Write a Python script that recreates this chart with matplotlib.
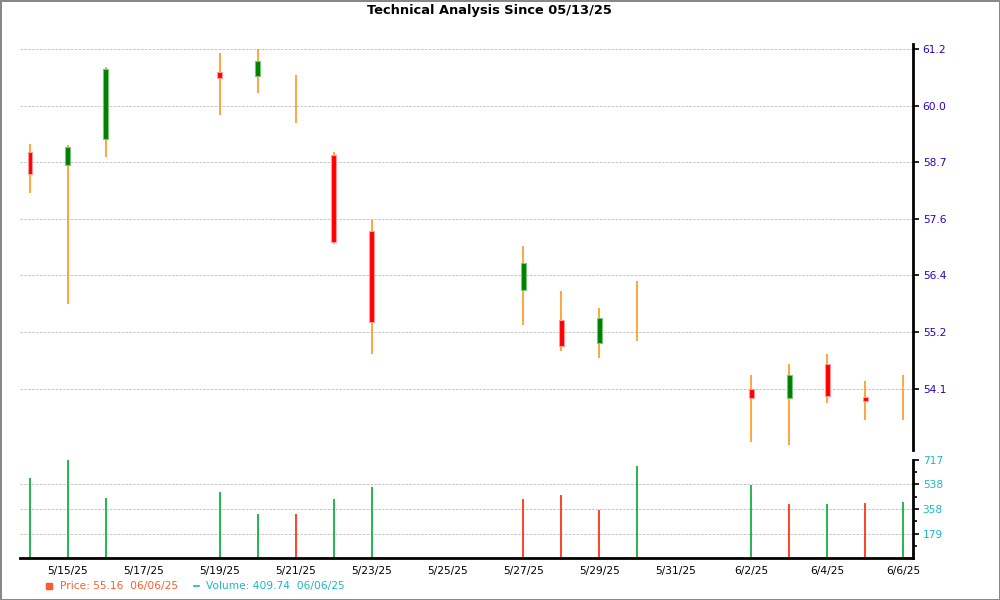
import matplotlib
matplotlib.use('Agg')
import matplotlib.pyplot as plt
import matplotlib.dates as mdates
from matplotlib.ticker import FuncFormatter
from matplotlib.lines import Line2D
import pandas as pd
import numpy as np

# daily OHLC
dates = ['2025-05-14', '2025-05-15', '2025-05-16', '2025-05-19', '2025-05-20',
         '2025-05-21', '2025-05-22', '2025-05-23', '2025-05-27', '2025-05-28',
         '2025-05-29', '2025-05-30', '2025-06-02', '2025-06-03', '2025-06-04',
         '2025-06-05', '2025-06-06']
opens = [59.04, 58.77, 59.33, 60.72, 60.64, 59.80, 58.99, 57.39, 56.16, 55.54,
         55.05, 55.49, 54.09, 53.90, 54.61, 53.92, 54.13]
highs = [59.22, 59.20, 60.82, 61.12, 61.21, 60.66, 59.06, 57.62, 57.08, 56.14,
         55.79, 56.35, 54.38, 54.61, 54.82, 54.26, 54.38]
lows = [58.20, 55.86, 58.95, 59.83, 60.29, 59.65, 57.12, 54.82, 55.42, 54.89,
        54.75, 55.10, 52.99, 52.91, 53.79, 53.45, 53.45]
closes = [58.59, 59.15, 60.79, 60.59, 60.96, 59.80, 57.17, 55.49, 56.73, 54.99,
          55.57, 55.49, 53.90, 54.38, 53.94, 53.83, 54.13]
volumes = [584, 717, 437, 481, 322, 322, 430, 518, 430, 462, 349, 675, 533, 395,
           395, 403, 410]
vol_up = [1, 1, 1, 1, 1, 0, 1, 1, 0, 0, 0, 1, 1, 0, 1, 0, 1]

price_ticks = ['54.1', '55.2', '56.4', '57.6', '58.7', '60.0', '61.2']
vol_ticks = [179, 358, 538, 717]

days = mdates.date2num(pd.to_datetime(dates))
o = np.array(opens); c = np.array(closes)

grid_kw = dict(linestyle=(0, (2.5, 1.5)), color='#c4c4c4', lw=0.7)

fig = plt.figure(figsize=(10, 6), dpi=100, facecolor='white',
                 edgecolor='#888888', linewidth=2)
ax = fig.add_axes([0.02, 0.25, 0.893, 0.6767])
axv = fig.add_axes([0.02, 0.07, 0.893, 0.1633], sharex=ax)

# candles
ax.vlines(days, lows, highs, color='#ff961a', lw=1.2, zorder=2)
up = c > o
dn = c < o
ax.bar(days[up], (c - o)[up], bottom=o[up], width=0.13, color='#008000',
       edgecolor='#78c478', lw=0.8, zorder=3)
ax.bar(days[dn], (o - c)[dn], bottom=c[dn], width=0.13, color='#ff0000',
       edgecolor='#ff9a9a', lw=0.8, zorder=3)
# flat days: faint break in the wick
flat = c == o
ax.hlines(c[flat], days[flat] - 0.02, days[flat] + 0.02, color='#ffd9a8',
          lw=1.0, zorder=3)

ax.set_ylim(52.815, 61.31)
pt = np.linspace(54.1, 61.2, len(price_ticks))
ax.set_yticks(pt)
ax.set_yticklabels(price_ticks)
ax.yaxis.tick_right()
ax.tick_params(axis='y', colors='black', labelcolor='#2a00c8', labelsize=7.7,
               length=4, width=1.2, pad=3)
ax.tick_params(axis='x', labelbottom=False, length=0)
ax.grid(axis='y', **grid_kw)
ax.set_axisbelow(True)
for s in ['left', 'top', 'bottom']:
    ax.spines[s].set_visible(False)
ax.spines['right'].set_linewidth(2)

# volume
vcol = ['#00aa33' if u else '#ff2200' for u in vol_up]
for v in vol_ticks[:-1]:
    axv.axhline(v, zorder=0, **grid_kw)
axv.vlines(days, 0, volumes, colors=vcol, lw=1.2)
axv.set_ylim(0, 717)
axv.set_yticks(vol_ticks)
axv.set_yticks([v - 89.6 for v in vol_ticks], minor=True)
axv.yaxis.tick_right()
axv.tick_params(axis='y', which='both', labelcolor='#1ab8c8', labelsize=7.7,
                length=4, width=1.2, pad=3)
axv.tick_params(axis='y', which='minor', length=3)
for s in ['left', 'top']:
    axv.spines[s].set_visible(False)
axv.spines['right'].set_linewidth(2)
axv.spines['bottom'].set_linewidth(2)

xt = mdates.date2num(pd.date_range('2025-05-15', '2025-06-06', freq='2D'))
axv.set_xticks(xt)
axv.xaxis.set_major_formatter(FuncFormatter(
    lambda v, p: '{d.month}/{d.day}/{y}'.format(d=mdates.num2date(v), y=mdates.num2date(v).strftime('%y'))))
axv.tick_params(axis='x', length=0, labelsize=7.7, pad=6)
axv.set_xlim(days[0] - 0.263, days[-1] + 0.263)

fig.text(0.489, 0.983, 'Technical Analysis Since 05/13/25', ha='center',
         va='center', fontsize=9.4, fontweight='bold')

# legend
fig.add_artist(Line2D([0.0485], [0.0235], marker='s', ms=4.5, color='#ff5a2a',
                      transform=fig.transFigure))
fig.text(0.06, 0.0235, 'Price: 55.16  06/06/25', color='#ff5a2a', fontsize=7.7,
         va='center')
fig.add_artist(Line2D([0.194, 0.199], [0.0235, 0.0235], color='#1ab8c8', lw=1.2,
                      transform=fig.transFigure))
fig.text(0.206, 0.0235, 'Volume: 409.74  06/06/25', color='#1ab8c8', fontsize=7.7,
         va='center')

fig.savefig('out.png', dpi=100, edgecolor=fig.get_edgecolor())
